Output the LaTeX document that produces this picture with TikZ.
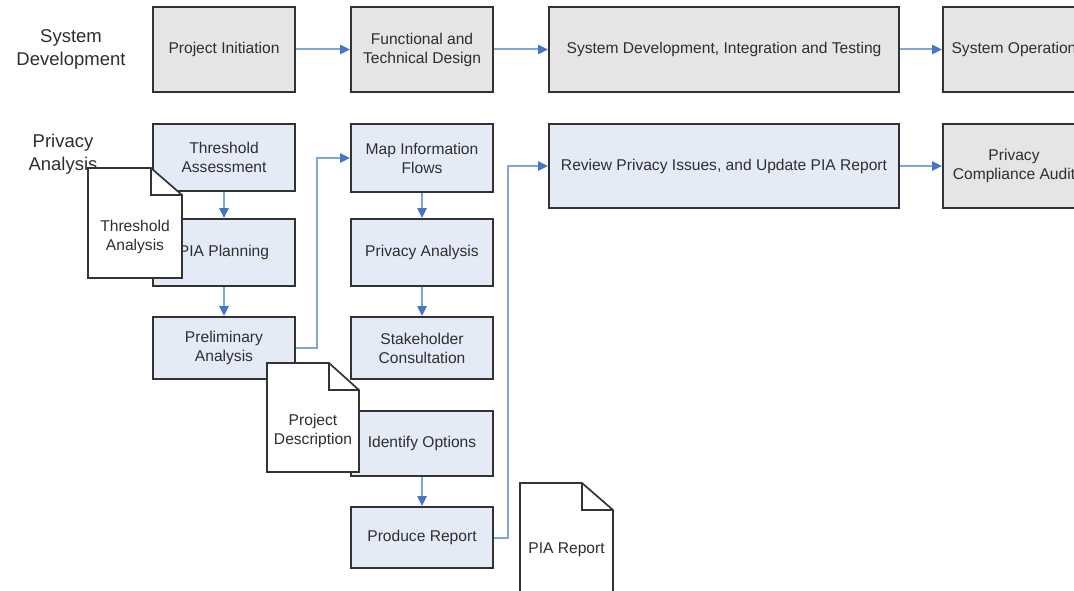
\documentclass[tikz,border=0pt]{standalone}
\usepackage{fontspec}
\setmainfont{Liberation Sans}
\usetikzlibrary{arrows.meta}
\definecolor{boxgrey}{HTML}{E5E5E5}
\definecolor{boxblue}{HTML}{E5EBF6}
\definecolor{edge}{HTML}{333333}
\definecolor{flow}{HTML}{7FA5DC}
\definecolor{flowtip}{HTML}{4575C4}
\definecolor{ink}{HTML}{2E2E2E}

\begin{document}
\begin{tikzpicture}[x=1pt,y=-1pt,
  box/.style={draw=edge, line width=1.7pt, rectangle, inner sep=0pt, align=center,
    text=ink, font=\fontsize{15.6}{19}\selectfont},
  sysbox/.style={box, fill=boxgrey},
  pribox/.style={box, fill=boxblue},
  narrow/.style={minimum width=142pt},
  wide/.style={minimum width=350pt},
  lane/.style={align=center, text=ink, inner sep=0pt, font=\fontsize{18.5}{23}\selectfont},
  flowline/.style={draw=flow, line width=2pt, -{Triangle[length=10pt,width=9pt,color=flowtip]}},
  docpage/.style={draw=edge, line width=1.7pt, fill=white, line join=miter},
  docfold/.style={draw=edge, line width=1.7pt},
  doctext/.style={align=center, text=ink, inner sep=0pt, font=\fontsize{15.6}{19}\selectfont},
]
\useasboundingbox (0,0) rectangle (1074,591);
\clip (0,0) rectangle (1074,591);

% lane titles
\node[lane] (lsys) at (71,49.5) {System\\Development};
\node[lane] (lpri) at (63,154.5) {Privacy\\Analysis};

% system development lane
\node[sysbox, narrow, minimum height=85pt] (init) at (224,49.5) {Project Initiation};
\node[sysbox, narrow, minimum height=85pt] (ftd)  at (422,49.5) {Functional and\\Technical Design};
\node[sysbox, wide,   minimum height=85pt] (sdit) at (724,49.5) {System Development, Integration and Testing};
\node[sysbox, narrow, minimum height=85pt] (sop)  at (1014,49.5) {System Operation};

% privacy analysis lane
\node[pribox, narrow, minimum height=67pt] (ta)    at (224,157.5) {Threshold\\Assessment};
\node[pribox, narrow, minimum height=67pt] (plan)  at (224,252.5) {PIA Planning};
\node[pribox, narrow, minimum height=62pt] (prel)  at (224,348) {Preliminary\\Analysis};
\node[pribox, narrow, minimum height=68pt] (map)   at (422,158) {Map Information\\Flows};
\node[pribox, narrow, minimum height=67pt] (pa)    at (422,252.5) {Privacy Analysis};
\node[pribox, narrow, minimum height=62pt] (stake) at (422,348) {Stakeholder\\Consultation};
\node[pribox, narrow, minimum height=65pt] (ident) at (422,443.5) {Identify Options};
\node[pribox, narrow, minimum height=61pt] (prod)  at (422,537.5) {Produce Report};
\node[pribox, wide,   minimum height=84pt] (rev)   at (724,166) {Review Privacy Issues, and Update PIA Report};
\node[sysbox, narrow, minimum height=84pt] (pca)   at (1014,166) {Privacy\\Compliance Audit};

% flows
\draw[flowline] (init) -- (ftd);
\draw[flowline] (ftd) -- (sdit);
\draw[flowline] (sdit) -- (sop);
\draw[flowline] (rev) -- (pca);
\draw[flowline] (ta) -- (plan);
\draw[flowline] (plan) -- (prel);
\draw[flowline] (map) -- (pa);
\draw[flowline] (pa) -- (stake);
\draw[flowline] (ident) -- (prod);
\draw[flowline] (prel.east) -- ++(21,0) |- (map.west);
\draw[flowline] (prod.east) -- ++(14,0) |- (rev.west);

% documents
\draw[docpage] (88,168) -- (151,168) -- (182,195) -- (182,278) -- (88,278) -- cycle;
\draw[docfold] (151,168) -- (151,195) -- (182,195);
\node[doctext] (tadoc) at (135,236.5) {Threshold\\Analysis};

\draw[docpage] (267,363) -- (329,363) -- (359,390) -- (359,472) -- (267,472) -- cycle;
\draw[docfold] (329,363) -- (329,390) -- (359,390);
\node[doctext] (pddoc) at (313,431) {Project\\Description};

\draw[docpage] (520,483) -- (582,483) -- (613,510) -- (613,598) -- (520,598) -- cycle;
\draw[docfold] (582,483) -- (582,510) -- (613,510);
\node[doctext] (prdoc) at (566.5,550) {PIA Report};
\end{tikzpicture}
\end{document}
